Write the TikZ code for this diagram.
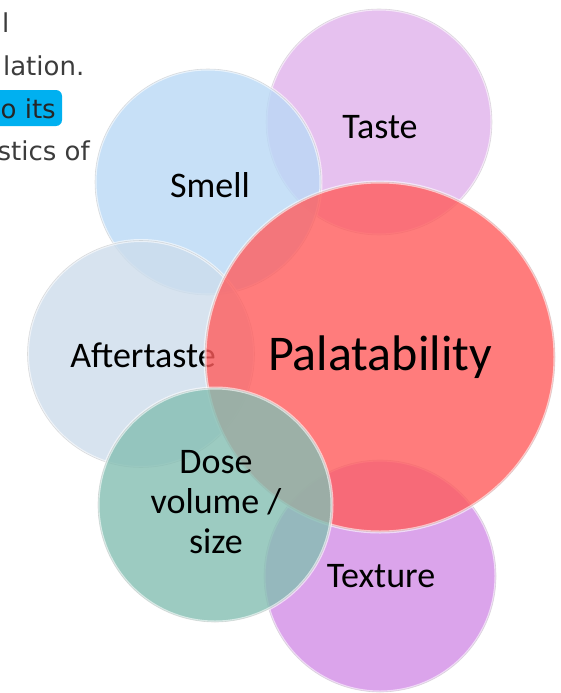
\documentclass[tikz,border=0pt]{standalone}
\usepackage{fontspec}
\setmainfont{Carlito}
\newfontfamily\notefont{DejaVu Sans}
\definecolor{tastecol}{RGB}{224,178,236}
\definecolor{smellcol}{RGB}{186,217,246}
\definecolor{aftercol}{RGB}{205,221,236}
\definecolor{palacol}{RGB}{255,92,92}
\definecolor{dosecol}{RGB}{132,190,178}
\definecolor{texturecol}{RGB}{211,142,230}
\definecolor{notecol}{RGB}{60,60,60}
\definecolor{hlcol}{RGB}{0,176,240}
\begin{document}
\begin{tikzpicture}[x=1pt,y=-1pt,
    bubble/.style={circle, inner sep=0pt, minimum size=#1,
      fill opacity=0.8, draw=white, draw opacity=0.6, line width=3pt,
      postaction={draw=black!35, draw opacity=0.35, line width=0.6pt}},
    lbl/.style={anchor=base, inner sep=0pt, text=black,
      font=\fontsize{36}{40}\selectfont},
    note/.style={anchor=base east, inner sep=0pt, text=notecol,
      font=\notefont\fontsize{26}{30}\selectfont}]
  \useasboundingbox (0,0) rectangle (561,693);
  \clip (0,0) rectangle (561,693);
  \fill[white] (0,0) rectangle (561,693);
  % text cut off at the left
  \fill[hlcol, rounded corners=6pt] (-20,90) rectangle (62,126);
  \node[note] (noteA) at (9.5,33) {l};
  \node[note] (noteB) at (84.5,75) {lation.};
  \node[note, text=black!85] (noteC) at (56,118) {o its};
  \node[note] (noteD) at (90,160) {stics of};
  % bubbles
  \node[bubble=226pt, fill=tastecol] (taste) at (379,122) {};
  \node[lbl] (tasteL) at (380,138) {Taste};
  \node[bubble=226pt, fill=smellcol] (smell) at (208,182) {};
  \node[lbl] (smellL) at (210,197) {Smell};
  \node[bubble=227pt, fill=aftercol] (after) at (141,354) {};
  \node[lbl] (afterL) at (143,367) {Aftertaste};
  \node[bubble=232pt, fill=texturecol] (texture) at (380,576) {};
  \node[bubble=350pt, fill=palacol] (pala) at (380,357) {};
  \node[lbl, font=\fontsize{50}{56}\selectfont] (palaL) at (380,370) {Palatability};
  \node[lbl] (textureL) at (381,587) {Texture};
  \node[bubble=234pt, fill=dosecol] (dose) at (215,505) {};
  \node[lbl, anchor=center, align=center] (doseL) at (216,502) {Dose\\volume /\\size};
\end{tikzpicture}
\end{document}
